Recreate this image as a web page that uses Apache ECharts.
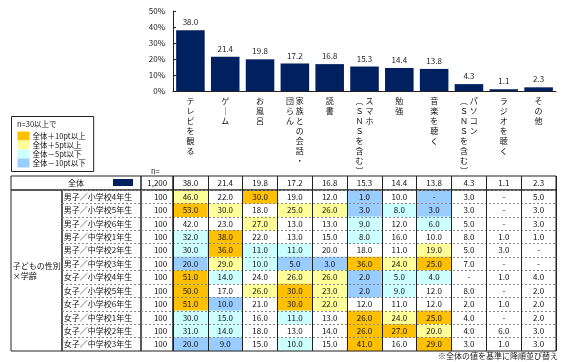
<!DOCTYPE html>
<html><head><meta charset="utf-8">
<script src="https://cdn.jsdelivr.net/npm/echarts@6/dist/echarts.min.js"></script>
<style>html,body{margin:0;padding:0;background:#fff}#c{width:567px;height:362px}</style>
</head><body><div id="c"></div>
<script>
// ---------------- data ----------------
const categories = ['テレビを観る','ゲーム','お風呂','家族との会話・団らん','読書','スマホ（SNSを含む）','勉強','音楽を聴く','パソコン（SNSを含む）','ラジオを聴く','その他'];
const totalLabel = '全体';
const totalN = '1,200';
const totalValues = [38.0,21.4,19.8,17.2,16.8,15.3,14.4,13.8,4.3,1.1,2.3];
const groupLabel = '子どもの性別×学齢';
const rowLabels = ['男子／小学校4年生','男子／小学校5年生','男子／小学校6年生','男子／中学校1年生','男子／中学校2年生','男子／中学校3年生',
                   '女子／小学校4年生','女子／小学校5年生','女子／小学校6年生','女子／中学校1年生','女子／中学校2年生','女子／中学校3年生'];
const rowN = [100,100,100,100,100,100,100,100,100,100,100,100];
const boy4  = [46,22,30,19,12, 1,10,null,3,null,5];
const boy5  = [53,30,18,25,26, 3, 8, 3,3,null,3];
const boy6  = [42,23,27,13,13, 9,12, 6,5,null,3];
const boyJ1 = [32,38,22,13,15, 8,16,10,8,1,1];
const boyJ2 = [30,36,11,11,20,18,11,19,5,3,null];
const boyJ3 = [20,29,10, 5, 3,36,24,25,7,null,null];
const girl4 = [51,14,24,26,26, 2, 5, 4,null,1,4];
const girl5 = [50,17,26,30,23, 2, 9,12,8,null,2];
const girl6 = [51,10,21,30,22,12,11,12,2,1,2];
const girlJ1= [30,15,16,11,13,26,24,25,4,null,2];
const girlJ2= [31,14,18,13,14,26,27,20,4,6,3];
const girlJ3= [20, 9,15,10,15,41,16,29,3,1,3];
const rowValues = [boy4,boy5,boy6,boyJ1,boyJ2,boyJ3,girl4,girl5,girl6,girlJ1,girlJ2,girlJ3];
const legendTitle = 'n=30以上で';
const levelLabels = ['全体＋10pt以上','全体＋5pt以上','全体－5pt以下','全体－10pt以下'];
const yTickMin = 0, yTickMax = 50, yTickStep = 10;
const footnote = '※全体の値を基準に降順並び替え';

// ---------------- helpers ----------------
const FONT = "'Noto Sans CJK JP', 'Noto Sans', sans-serif";
function vert(name){
  const conv = s => s.replace(/（/g,'︵').replace(/）/g,'︶').replace(/ー/g,'｜')
                     .replace(/[A-Za-z]/g, ch => String.fromCharCode(ch.charCodeAt(0)+0xFEE0));
  let cols;
  const p = name.indexOf('（');
  if (p > 0) cols = [name.slice(0,p), name.slice(p)];
  else if (name.length > 7) cols = [name.slice(0,7), name.slice(7)];
  else cols = [name];
  cols = cols.map(c => Array.from(conv(c)));
  if (cols.length === 1) return cols[0].join('\n');
  const n = Math.max(cols[0].length, cols[1].length);
  const lines = [];
  for (let i=0;i<n;i++) lines.push((cols[1][i]||'　') + ' ' + (cols[0][i]||'　'));
  return lines.join('\n');
}
const fmt = v => (v === null || v === undefined || v === 0) ? '-' : v.toFixed(1);

const L = 173, W = 383;
const BORDER = '#222';
const gridBox = (left, top, width, height) => ({left, top, width, height, show:true, borderColor:BORDER, borderWidth:1, backgroundColor:'transparent', z:5});
const grids = [
  {left:L, top:11, width:W, height:80},
  gridBox(11, 176, 130, 14),
  gridBox(141, 176, 32, 14),
  gridBox(L, 176, W, 14),
  gridBox(11, 190, 51, 161),
  gridBox(62, 190, 79, 161),
  gridBox(141, 190, 32, 161),
  gridBox(L, 190, W, 161)
];
const idx = n => Array.from({length:n}, (_, i) => String(i));
function hiddenCat(gi, data, opts){
  return Object.assign({gridIndex:gi, type:'category', data, z:5,
    axisLine:{show:false}, axisTick:{show:false}, axisLabel:{show:false}, splitLine:{show:false}}, opts||{});
}
const solidSplit = {show:true, interval:0, lineStyle:{color:BORDER, width:1}};
const dashSplit  = {show:true, interval:0, lineStyle:{color:'#888', width:1, type:[2,2]}};

const xAxes = [
  {gridIndex:0, type:'category', data:categories,
   axisLine:{lineStyle:{color:BORDER, width:1}},
   axisTick:{interval:0, length:85, lineStyle:{color:BORDER}},
   axisLabel:{interval:0, margin:5, fontSize:8, lineHeight:10, color:'#111', fontFamily:FONT, verticalAlign:'top', formatter:vert}},
  hiddenCat(1, ['0']),
  hiddenCat(2, ['0']),
  hiddenCat(3, categories, {splitLine:solidSplit}),
  hiddenCat(4, ['0']),
  hiddenCat(5, ['0']),
  hiddenCat(6, ['0']),
  hiddenCat(7, categories, {splitLine:solidSplit})
];
const yAxes = [
  {gridIndex:0, type:'value', min:yTickMin, max:yTickMax, interval:yTickStep,
   axisLine:{show:true, lineStyle:{color:BORDER}},
   axisTick:{show:true, inside:true, length:3, lineStyle:{color:BORDER}},
   axisLabel:{formatter:'{value}%', fontSize:8, margin:8, color:'#222', fontFamily:FONT},
   splitLine:{show:false}},
  hiddenCat(1, ['0'], {inverse:true}),
  hiddenCat(2, ['0'], {inverse:true}),
  hiddenCat(3, ['0'], {inverse:true}),
  hiddenCat(4, ['0'], {inverse:true}),
  hiddenCat(5, idx(rowLabels.length), {inverse:true, splitLine:dashSplit}),
  hiddenCat(6, idx(rowLabels.length), {inverse:true, splitLine:dashSplit}),
  hiddenCat(7, idx(rowLabels.length), {inverse:true, splitLine:dashSplit})
];

const cellLabel = (pos, extra) => Object.assign({show:true, position:pos, fontSize:8, color:'#111', fontFamily:FONT,
  formatter: p => p.data[3]}, extra||{});
const clear = {color:'rgba(0,0,0,0)'};
function hm(gi, data, label){
  return {type:'heatmap', xAxisIndex:gi, yAxisIndex:gi, data, label, itemStyle:clear, z:1, emphasis:{disabled:true}};
}

const valueCells = [];
rowValues.forEach((row, r) => row.forEach((v, c) => {
  const diff = (v === null ? 0 : v) - totalValues[c];
  valueCells.push([c, r, diff, fmt(v)]);
}));

const series = [
  {type:'bar', name:totalLabel, xAxisIndex:0, yAxisIndex:0, data:totalValues, barWidth:'82%',
   itemStyle:{color:'#002060'},
   label:{show:true, position:'top', distance:4, fontSize:8, color:'#222', fontFamily:FONT, formatter:p => p.value.toFixed(1)}},
  hm(1, [[0,0,0,totalLabel]], cellLabel('inside')),
  hm(2, [[0,0,0,totalN]], cellLabel('insideRight', {distance:6})),
  hm(3, totalValues.map((v,c) => [c,0,0,fmt(v)]), cellLabel('inside')),
  hm(4, [[0,0,0,groupLabel.replace('×','\n×')]], cellLabel('insideLeft', {distance:2, lineHeight:10})),
  hm(5, rowLabels.map((s,r) => [0,r,0,s]), cellLabel('insideLeft', {distance:2})),
  hm(6, rowN.map((n,r) => [0,r,0,String(n)]), cellLabel('insideRight', {distance:6})),
  {type:'heatmap', xAxisIndex:7, yAxisIndex:7, data:valueCells, z:1, emphasis:{disabled:true},
   label:cellLabel('inside')}
];

const option = {
  animation:false,
  textStyle:{fontFamily:FONT},
  grid:grids, xAxis:xAxes, yAxis:yAxes, series,
  title:[
    {text:legendTitle, left:17, top:120, padding:0, textStyle:{fontSize:7.5, fontWeight:'normal', color:'#222'}},
    {text:'n=', left:151, top:167, padding:0, textStyle:{fontSize:7.5, fontWeight:'normal', color:'#222'}},
    {text:footnote, left:438, top:352, padding:0, textStyle:{fontSize:8, fontWeight:'normal', color:'#222'}}
  ],
  legend:{data:[totalLabel], left:113, top:179, itemWidth:20, itemHeight:7, icon:'rect', padding:0, itemGap:0,
    selectedMode:false, formatter:() => '', textStyle:{fontSize:1}},
  visualMap:{type:'piecewise', seriesIndex:7, dimension:2, left:11, top:116,
    orient:'vertical', itemSymbol:'rect', itemWidth:12, itemHeight:9, itemGap:0, textGap:3,
    padding:[15,8,4,6], borderColor:BORDER, borderWidth:1, backgroundColor:'transparent',
    selectedMode:false, hoverLink:false,
    textStyle:{fontSize:7.5, color:'#111', fontFamily:FONT},
    pieces:[
      {gte:10, label:levelLabels[0], color:'#FFC000'},
      {gte:5, lt:10, label:levelLabels[1], color:'#FFFF99'},
      {gt:-10, lte:-5, label:levelLabels[2], color:'#CCFFFF'},
      {lte:-10, label:levelLabels[3], color:'#99CCFF'}
    ],
    outOfRange:{color:'rgba(0,0,0,0)'}}
};
const chart = echarts.init(document.getElementById('c'), null, {renderer:'canvas'});
chart.setOption(option);
</script></body></html>
